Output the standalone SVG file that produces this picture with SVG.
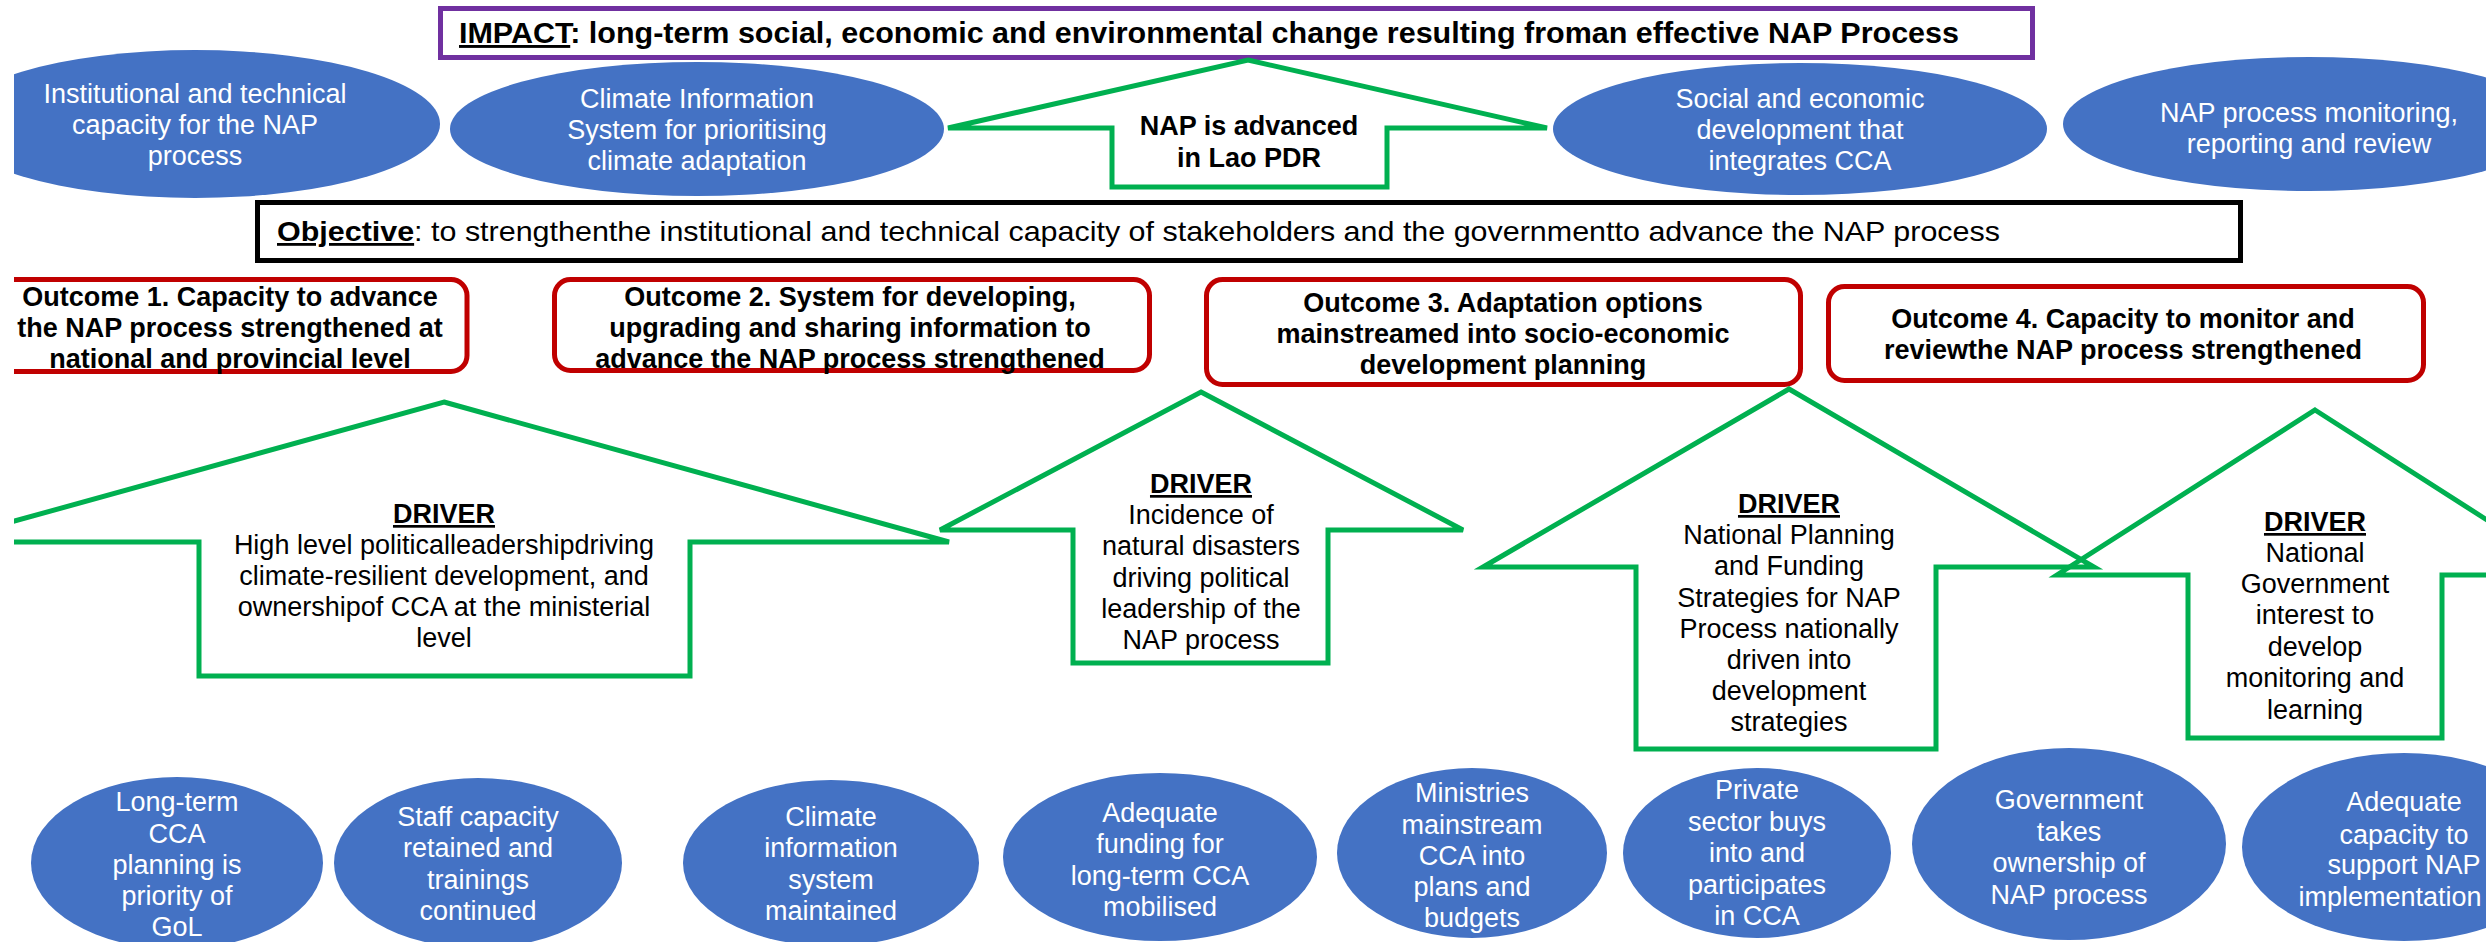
<svg xmlns="http://www.w3.org/2000/svg" width="2486" height="942" viewBox="0 0 2486 942">
<defs>
<clipPath id="page"><rect x="14" y="0" width="2472" height="942"/></clipPath>
</defs>
<style>
text{font-family:"Liberation Sans",Arial,sans-serif;font-size:27px;text-anchor:middle}
.w{fill:#fff}
.k{fill:#000}
.b{font-weight:bold}
.u{text-decoration:underline;font-weight:bold}
.ell{fill:#4472C4}
.drv{fill:none;stroke:#00B050;stroke-width:5;stroke-linejoin:miter}
.nap{fill:#fff;stroke:#00B050;stroke-width:5;stroke-linejoin:miter}
.out{fill:#fff;stroke:#C00000;stroke-width:5}
</style>
<rect width="2486" height="942" fill="#fff"/>
<g clip-path="url(#page)">
<g id="impact">
<rect x="440.5" y="8.5" width="1592" height="49" fill="#fff" stroke="#7030A0" stroke-width="5"/>
<text class="k b" x="459" y="43" style="text-anchor:start;font-size:29px" textLength="1500" lengthAdjust="spacingAndGlyphs"><tspan class="u">IMPACT</tspan>: long-term social, economic and environmental change resulting froman effective NAP Process</text>
</g>
<g id="nap-advanced">
<path class="nap" d="M1248,60 L1547,128 L1387,128 L1387,187 L1112,187 L1112,128 L948,128 Z"/>
<text class="k b" x="1249"><tspan x="1249" y="135">NAP is advanced</tspan><tspan x="1249" y="167">in Lao PDR</tspan></text>
</g>
<g id="impact-1">
<ellipse class="ell" cx="195" cy="124" rx="245" ry="74"/>
<text class="w"><tspan x="195" y="103">Institutional and technical</tspan><tspan x="195" y="134">capacity for the NAP</tspan><tspan x="195" y="165">process</tspan></text>
</g>
<g id="impact-2">
<ellipse class="ell" cx="697" cy="129" rx="247" ry="67"/>
<text class="w"><tspan x="697" y="108">Climate Information</tspan><tspan x="697" y="139">System for prioritising</tspan><tspan x="697" y="170">climate adaptation</tspan></text>
</g>
<g id="impact-3">
<ellipse class="ell" cx="1800" cy="129" rx="247" ry="66"/>
<text class="w"><tspan x="1800" y="108">Social and economic</tspan><tspan x="1800" y="139">development that</tspan><tspan x="1800" y="170">integrates CCA</tspan></text>
</g>
<g id="impact-4">
<ellipse class="ell" cx="2309" cy="124" rx="246" ry="67"/>
<text class="w"><tspan x="2309" y="122">NAP process monitoring,</tspan><tspan x="2309" y="153">reporting and review</tspan></text>
</g>
<g id="objective">
<rect x="257.5" y="202.5" width="1983" height="58" fill="#fff" stroke="#000" stroke-width="5"/>
<text class="k" x="277" y="241" style="text-anchor:start;font-size:28px" textLength="1723" lengthAdjust="spacingAndGlyphs"><tspan class="u">Objective</tspan>: to strengthenthe institutional and technical capacity of stakeholders and the governmentto advance the NAP process</text>
</g>
<g id="outcome-1">
<rect class="out" x="-10" y="279.5" width="477" height="92" rx="16"/>
<text class="k b"><tspan x="230" y="306">Outcome 1. Capacity to advance</tspan><tspan x="230" y="337">the NAP process strengthened at</tspan><tspan x="230" y="368">national and provincial level</tspan></text>
</g>
<g id="outcome-2">
<rect class="out" x="554.5" y="279.5" width="595" height="91" rx="16"/>
<text class="k b"><tspan x="850" y="306">Outcome 2. System for developing,</tspan><tspan x="850" y="337">upgrading and sharing information to</tspan><tspan x="850" y="368">advance the NAP process strengthened</tspan></text>
</g>
<g id="outcome-3">
<rect class="out" x="1206.5" y="279.5" width="594" height="105" rx="16"/>
<text class="k b"><tspan x="1503" y="312">Outcome 3. Adaptation options</tspan><tspan x="1503" y="343">mainstreamed into socio-economic</tspan><tspan x="1503" y="374">development planning</tspan></text>
</g>
<g id="outcome-4">
<rect class="out" x="1828.5" y="286.5" width="595" height="94" rx="16"/>
<text class="k b"><tspan x="2123" y="328">Outcome 4. Capacity to monitor and</tspan><tspan x="2123" y="359">reviewthe NAP process strengthened</tspan></text>
</g>
<g id="driver-1">
<path class="drv" d="M444,402 L949,542 L690,542 L690,676 L199,676 L199,542 L-61,542 Z"/>
<text class="k"><tspan class="u" x="444" y="523">DRIVER</tspan><tspan x="444" y="554">High level politicalleadershipdriving</tspan><tspan x="444" y="585">climate-resilient development, and</tspan><tspan x="444" y="616">ownershipof CCA at the ministerial</tspan><tspan x="444" y="647">level</tspan></text>
</g>
<g id="driver-2">
<path class="drv" d="M1201,392 L1463,530 L1328,530 L1328,663 L1073,663 L1073,530 L940,530 Z"/>
<text class="k"><tspan class="u" x="1201" y="493">DRIVER</tspan><tspan x="1201" y="524">Incidence of</tspan><tspan x="1201" y="555">natural disasters</tspan><tspan x="1201" y="587">driving political</tspan><tspan x="1201" y="618">leadership of the</tspan><tspan x="1201" y="649">NAP process</tspan></text>
</g>
<g id="driver-3">
<path class="drv" d="M1789,389 L2094,567 L1936,567 L1936,749 L1636,749 L1636,567 L1483,567 Z"/>
<text class="k"><tspan class="u" x="1789" y="513">DRIVER</tspan><tspan x="1789" y="544">National Planning</tspan><tspan x="1789" y="575">and Funding</tspan><tspan x="1789" y="607">Strategies for NAP</tspan><tspan x="1789" y="638">Process nationally</tspan><tspan x="1789" y="669">driven into</tspan><tspan x="1789" y="700">development</tspan><tspan x="1789" y="731">strategies</tspan></text>
</g>
<g id="driver-4">
<path class="drv" d="M2315,410 L2573,575 L2442,575 L2442,738 L2188,738 L2188,575 L2057,575 Z"/>
<text class="k"><tspan class="u" x="2315" y="531">DRIVER</tspan><tspan x="2315" y="562">National</tspan><tspan x="2315" y="593">Government</tspan><tspan x="2315" y="624">interest to</tspan><tspan x="2315" y="656">develop</tspan><tspan x="2315" y="687">monitoring and</tspan><tspan x="2315" y="719">learning</tspan></text>
</g>
<g id="factor-1">
<ellipse class="ell" cx="177" cy="863" rx="146" ry="86"/>
<text class="w"><tspan x="177" y="811">Long-term</tspan><tspan x="177" y="843">CCA</tspan><tspan x="177" y="874">planning is</tspan><tspan x="177" y="905">priority of</tspan><tspan x="177" y="936">GoL</tspan></text>
</g>
<g id="factor-2">
<ellipse class="ell" cx="478" cy="863" rx="144" ry="85"/>
<text class="w"><tspan x="478" y="826">Staff capacity</tspan><tspan x="478" y="857">retained and</tspan><tspan x="478" y="889">trainings</tspan><tspan x="478" y="920">continued</tspan></text>
</g>
<g id="factor-3">
<ellipse class="ell" cx="831" cy="863" rx="148" ry="83"/>
<text class="w"><tspan x="831" y="826">Climate</tspan><tspan x="831" y="857">information</tspan><tspan x="831" y="889">system</tspan><tspan x="831" y="920">maintained</tspan></text>
</g>
<g id="factor-4">
<ellipse class="ell" cx="1160" cy="857" rx="157" ry="84"/>
<text class="w"><tspan x="1160" y="822">Adequate</tspan><tspan x="1160" y="853">funding for</tspan><tspan x="1160" y="885">long-term CCA</tspan><tspan x="1160" y="916">mobilised</tspan></text>
</g>
<g id="factor-5">
<ellipse class="ell" cx="1472" cy="853" rx="135" ry="85"/>
<text class="w"><tspan x="1472" y="802">Ministries</tspan><tspan x="1472" y="834">mainstream</tspan><tspan x="1472" y="865">CCA into</tspan><tspan x="1472" y="896">plans and</tspan><tspan x="1472" y="927">budgets</tspan></text>
</g>
<g id="factor-6">
<ellipse class="ell" cx="1757" cy="853" rx="134" ry="85"/>
<text class="w"><tspan x="1757" y="799">Private</tspan><tspan x="1757" y="831">sector buys</tspan><tspan x="1757" y="862">into and</tspan><tspan x="1757" y="894">participates</tspan><tspan x="1757" y="925">in CCA</tspan></text>
</g>
<g id="factor-7">
<ellipse class="ell" cx="2069" cy="844" rx="157" ry="96"/>
<text class="w"><tspan x="2069" y="809">Government</tspan><tspan x="2069" y="841">takes</tspan><tspan x="2069" y="872">ownership of</tspan><tspan x="2069" y="904">NAP process</tspan></text>
</g>
<g id="factor-8">
<ellipse class="ell" cx="2404" cy="847" rx="162" ry="94"/>
<text class="w"><tspan x="2404" y="811">Adequate</tspan><tspan x="2404" y="844">capacity to</tspan><tspan x="2404" y="874">support NAP</tspan><tspan x="2390" y="906">implementation</tspan></text>
</g>
<g id="connectors"/>
</g>
</svg>
